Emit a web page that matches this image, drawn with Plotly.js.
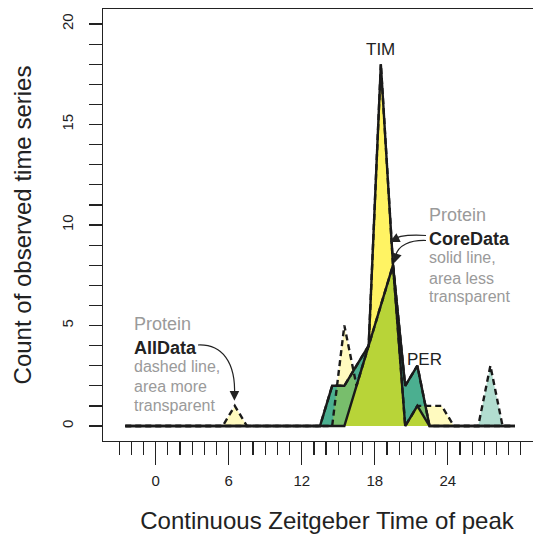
<!DOCTYPE html>
<html>
<head>
<meta charset="utf-8">
<script src="https://cdn.plot.ly/plotly-3.0.1.min.js"></script>
<style>
html,body{margin:0;padding:0;overflow:hidden;background:#fff;}
#chart{width:551px;height:536px;}
</style>
</head>
<body>
<div id="chart"></div>
<script>
// Hours (bin centres, continuous Zeitgeber time)
const hours = [-2.5,-1.5,-0.5,0.5,1.5,2.5,3.5,4.5,5.5,6.5,7.5,8.5,9.5,10.5,11.5,12.5,13.5,14.5,15.5,16.5,17.5,18.5,19.5,20.5,21.5,22.5,23.5,24.5,25.5,26.5,27.5,28.5,29.5];
// Counts of observed time series
const timAll  = [0,0,0,0,0,0,0,0,0,1,0,0,0,0,0,0,0,0,5,2,4,18,8,0,1,1,1,0,0,0,0,0,0];
const timCore = [0,0,0,0,0,0,0,0,0,0,0,0,0,0,0,0,0,0,0,2,4,18,8,0,1,0,0,0,0,0,0,0,0];
const perAll  = [0,0,0,0,0,0,0,0,0,0,0,0,0,0,0,0,0,2,2,3,4,6,8,2,3,0,0,0,0,0,3,0,0];
const perCore = [0,0,0,0,0,0,0,0,0,0,0,0,0,0,0,0,0,2,2,3,4,6,8,2,3,0,0,0,0,0,0,0,0];
// Axis ticks
const xMajorTicks = [0,6,12,18,24];
const xMajorLabels = ['0','6','12','18','24'];
const xMinorTicks = [-3,-2,-1,0,1,2,3,4,5,6,7,8,9,10,11,12,13,14,15,16,17,18,19,20,21,22,23,24,25,26,27,28,29,30];
const yMajorTicks = [0,5,10,15,20];
const yMinorTicks = [0,1,2,3,4,5,6,7,8,9,10,11,12,13,14,15,16,17,18,19,20];

const FONT = '"Liberation Sans", Arial, Helvetica, sans-serif';
const INK = '#222';
const GREY = '#9a9a9a';

const PER_ALL_FILL = 'rgba(0,142,98,0.30)';
const PER_CORE_FILL = 'rgba(0,142,98,0.58)';
const TIM_ALL_FILL = 'rgba(255,236,0,0.25)';
const TIM_CORE_FILL = 'rgba(255,236,0,0.48)';

function fillTrace(y, color){
  return {x: hours, y: y, type:'scatter', mode:'lines', fill:'tozeroy', fillcolor:color,
          line:{width:0, color:'rgba(0,0,0,0)'}, hoverinfo:'skip', showlegend:false};
}
function lineTrace(y, dashed){
  return {x: hours, y: y, type:'scatter', mode:'lines',
          line:{width:2.4, color:'#1a1a1a', dash: dashed ? '6px,4px' : 'solid'},
          hoverinfo:'skip', showlegend:false};
}

const data = [
  fillTrace(perAll, PER_ALL_FILL),
  fillTrace(perCore, PER_CORE_FILL),
  fillTrace(timAll, TIM_ALL_FILL),
  fillTrace(timCore, TIM_CORE_FILL),
  lineTrace(perAll, true),
  lineTrace(timAll, true),
  lineTrace(perCore, false),
  lineTrace(timCore, false)
];

function txt(x, y, text, size, color, bold, anchor){
  return {x:x, y:y, xref:'x', yref:'y', text: bold ? '<b>'+text+'</b>' : text,
          showarrow:false, xanchor: anchor || 'left', yanchor:'middle',
          font:{family:FONT, size:size, color:color}};
}
function head(x, y, ax, ay){
  return {x:x, y:y, xref:'x', yref:'y', text:'', showarrow:true, ax:ax, ay:ay,
          arrowhead:2, arrowsize:1.6, arrowwidth:1.2, arrowcolor:INK, standoff:0};
}

const annotations = [
  txt(18.5, 18.73, 'TIM', 17, INK, false, 'center'),
  txt(22.1, 3.33, 'PER', 17, INK, false, 'center'),
  txt(22.29, 10.5, 'Protein', 18, GREY, false),
  txt(22.29, 9.30, 'CoreData', 18, INK, true),
  txt(22.29, 8.36, 'solid line,', 16, GREY, false),
  txt(22.29, 7.36, 'area less', 16, GREY, false),
  txt(22.29, 6.42, 'transparent', 16, GREY, false),
  txt(-1.97, 5.07, 'Protein', 18, GREY, false),
  txt(-1.97, 3.90, 'AllData', 18, INK, true),
  txt(-1.97, 2.95, 'dashed line,', 16, GREY, false),
  txt(-1.97, 1.99, 'area more', 16, GREY, false),
  txt(-1.97, 1.04, 'transparent', 16, GREY, false),
  head(6.467, 1.26, 0, -10),
  head(19.25, 9.16, 10, -5),
  head(19.60, 8.11, 3, -10)
];

const shapes = [
  {type:'path', xref:'x', yref:'y', path:'M 3.476,4.030 C 5.448,4.080 6.598,3.184 6.475,1.493', line:{color:INK, width:1.2}, layer:'above'},
  {type:'path', xref:'x', yref:'y', path:'M 22.21,9.478 C 20.90,9.527 19.91,9.502 19.375,9.229', line:{color:INK, width:1.2}, layer:'above'},
  {type:'path', xref:'x', yref:'y', path:'M 22.21,9.229 C 20.90,9.254 19.91,9.005 19.70,8.458', line:{color:INK, width:1.2}, layer:'above'}
];

const layout = {
  width:551, height:536,
  margin:{l:103, r:0, t:9, b:95},
  paper_bgcolor:'#fff', plot_bgcolor:'#fff',
  font:{family:FONT, color:INK},
  showlegend:false,
  xaxis:{
    range:[-4.33, 32.48], tickmode:'array', tickvals:xMajorTicks, ticktext:xMajorLabels,
    ticks:'outside', ticklen:23, tickwidth:1.2, tickcolor:INK,
    showline:true, linecolor:INK, linewidth:1, mirror:true,
    showgrid:false, zeroline:false, ticklabelstandoff:3,
    tickfont:{family:FONT, size:15, color:INK},
    minor:{tickmode:'array', tickvals:xMinorTicks, ticks:'outside', ticklen:13, tickwidth:1.2, tickcolor:INK, showgrid:false},
    title:{text:'Continuous Zeitgeber Time of peak', font:{family:FONT, size:24, color:INK}, standoff:24}
  },
  yaxis:{
    range:[-0.746, 20.746], tickmode:'array', tickvals:yMajorTicks,
    ticks:'outside', ticklen:13, tickwidth:1.2, tickcolor:INK,
    showline:true, linecolor:INK, linewidth:1, mirror:false,
    showgrid:false, zeroline:false, tickangle:-90, ticklabelstandoff:10,
    tickfont:{family:FONT, size:15, color:INK},
    minor:{tickmode:'array', tickvals:yMinorTicks, ticks:'outside', ticklen:13, tickwidth:1.2, tickcolor:INK, showgrid:false},
    title:{text:'Count of observed time series', font:{family:FONT, size:24, color:INK}, standoff:20}
  },
  annotations: annotations,
  shapes: shapes
};

Plotly.newPlot('chart', data, layout, {displayModeBar:false, staticPlot:true});
</script>
</body>
</html>
